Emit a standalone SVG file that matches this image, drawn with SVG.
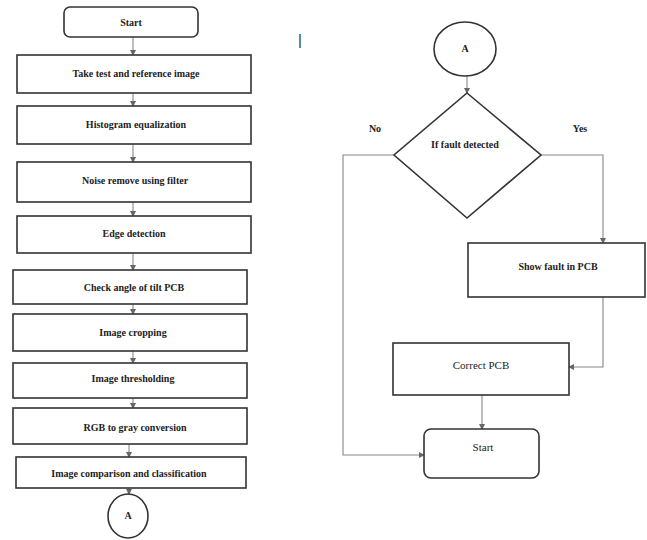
<svg xmlns="http://www.w3.org/2000/svg" width="647" height="540" viewBox="0 0 647 540">
<defs>
<marker id="ah" markerWidth="6" markerHeight="6" refX="5" refY="3" orient="auto" markerUnits="userSpaceOnUse">
<path d="M0,0 L6,3 L0,6 Z" fill="#666"/>
</marker>
<style>
.box{fill:#fff;stroke:#333;stroke-width:1.6}
.conn{fill:none;stroke:#888;stroke-width:1.1;marker-end:url(#ah)}
.t{font-family:"Liberation Serif","Times New Roman",serif;font-size:10px;font-weight:bold;fill:#222;text-anchor:middle;dominant-baseline:central}
.tn{font-family:"Liberation Serif","Times New Roman",serif;font-size:11px;fill:#222;text-anchor:middle;dominant-baseline:central}
</style>
</defs>
<rect width="647" height="540" fill="#fff"/>
<g id="connectors">
<line class="conn" x1="133" y1="37" x2="133" y2="55"/>
<line class="conn" x1="133" y1="93" x2="133" y2="106"/>
<line class="conn" x1="133" y1="144" x2="133" y2="162"/>
<line class="conn" x1="133" y1="202" x2="133" y2="216"/>
<line class="conn" x1="133" y1="253" x2="133" y2="270"/>
<line class="conn" x1="133" y1="304" x2="133" y2="314"/>
<line class="conn" x1="133" y1="351" x2="133" y2="363"/>
<line class="conn" x1="133" y1="398" x2="133" y2="408"/>
<line class="conn" x1="129" y1="444" x2="129" y2="457"/>
<line class="conn" x1="129" y1="488" x2="129" y2="494"/>
<line class="conn" x1="467" y1="76" x2="467" y2="93"/>
<polyline class="conn" points="394,155 343,155 343,455 424,455"/>
<polyline class="conn" points="541,155 603,155 603,243"/>
<polyline class="conn" points="603,297 603,367 569,367"/>
<line class="conn" x1="482" y1="395" x2="482" y2="429"/>
</g>
<g id="start"><rect class="box" x="64" y="7" width="134" height="30" rx="6"/><text class="t" x="131" y="22">Start</text></g>
<g id="take"><rect class="box" x="17" y="55" width="234" height="38"/><text class="t" x="136" y="73">Take test and reference image</text></g>
<g id="hist"><rect class="box" x="17" y="106" width="234" height="38"/><text class="t" x="136" y="124">Histogram equalization</text></g>
<g id="noise"><rect class="box" x="17" y="162" width="234" height="40"/><text class="t" x="135" y="180">Noise remove using filter</text></g>
<g id="edge"><rect class="box" x="17" y="216" width="234" height="37"/><text class="t" x="134" y="233">Edge detection</text></g>
<g id="tilt"><rect class="box" x="13" y="270" width="234" height="34"/><text class="t" x="134" y="287">Check angle of tilt PCB</text></g>
<g id="crop"><rect class="box" x="13" y="314" width="234" height="37"/><text class="t" x="133" y="332">Image cropping</text></g>
<g id="thresh"><rect class="box" x="13" y="363" width="234" height="35"/><text class="t" x="133" y="378">Image thresholding</text></g>
<g id="rgb"><rect class="box" x="13" y="408" width="234" height="36"/><text class="t" x="135" y="427">RGB to gray conversion</text></g>
<g id="compare"><rect class="box" x="16" y="457" width="230" height="31"/><text class="t" x="129" y="473">Image comparison and classification</text></g>
<g id="a1"><ellipse class="box" cx="128" cy="516" rx="20" ry="22"/><text class="t" x="128" y="515">A</text></g>
<text x="300" y="39" style="font-family:'Liberation Sans',sans-serif;font-size:15px;fill:#333;text-anchor:middle;dominant-baseline:central">|</text>
<g id="a2"><ellipse class="box" cx="465" cy="49" rx="31" ry="27"/><text class="t" x="465" y="48">A</text></g>
<g id="decision"><polygon class="box" points="467,93 541,155 467,218 394,155"/><text class="t" x="465" y="144">If fault detected</text></g>
<text class="t" x="375" y="128">No</text>
<text class="t" x="580" y="128">Yes</text>
<g id="show"><rect class="box" x="468" y="243" width="177" height="54"/><text class="t" x="558" y="266">Show fault in PCB</text></g>
<g id="correct"><rect class="box" x="393" y="343" width="176" height="52"/><text class="tn" x="481" y="365">Correct PCB</text></g>
<g id="end"><rect class="box" x="424" y="429" width="115" height="49" rx="7"/><text class="tn" x="483" y="447">Start</text></g>
</svg>
